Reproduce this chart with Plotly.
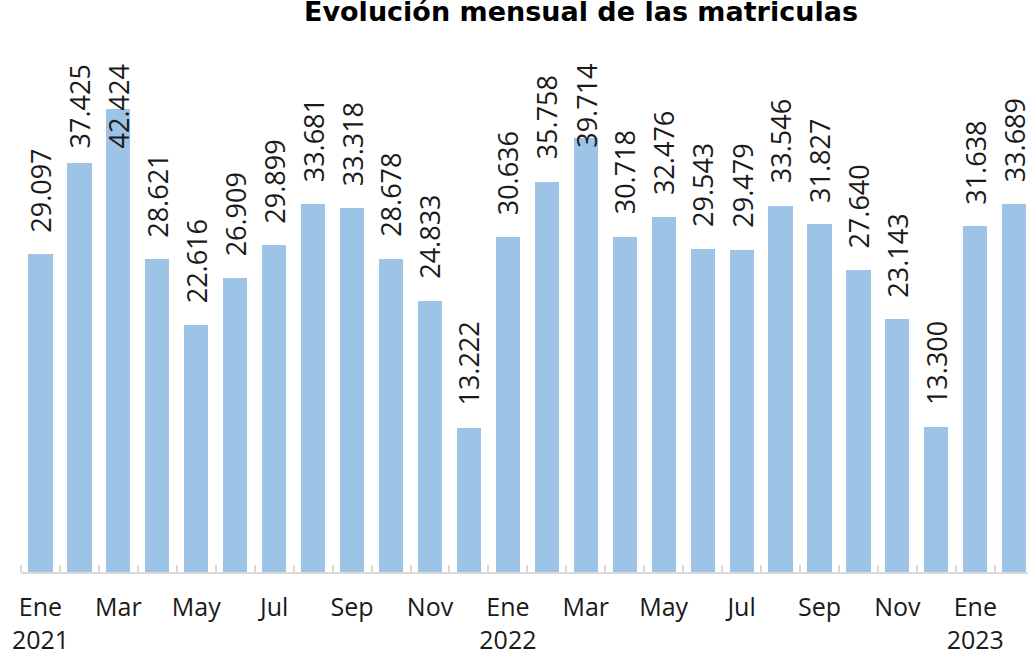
import plotly.graph_objects as go

# ---- data ----
months = ["Ene", "Feb", "Mar", "Abr", "May", "Jun", "Jul", "Ago", "Sep", "Oct", "Nov", "Dic",
          "Ene", "Feb", "Mar", "Abr", "May", "Jun", "Jul", "Ago", "Sep", "Oct", "Nov", "Dic",
          "Ene", "Feb"]
years = [2021] * 12 + [2022] * 12 + [2023] * 2
matriculas = [29097, 37425, 42424, 28621, 22616, 26909, 29899, 33681, 33318, 28678, 24833, 13222,
              30636, 35758, 39714, 30718, 32476, 29543, 29479, 33546, 31827, 27640, 23143, 13300,
              31638, 33689]
title_text = "Evolución mensual de las matriculas"

# ---- derived ----
xs = list(range(len(matriculas)))
tickvals = [i for i in xs if i % 2 == 0]
ticktext = [months[i] + ("<br>" + str(years[i]) if months[i] == "Ene" else "") for i in tickvals]
labels = [f"{v:,}".replace(",", ".") for v in matriculas]

W, H = 1028, 653
m_l, m_r, m_t, m_b = 21, 0, 62, 81
pitch = 38.95
y_max = 46700
plot_h = H - m_t - m_b
px_per_unit = plot_h / y_max

BAR_COLOR = "#9dc3e6"
TEXT_COLOR = "#1a1a1a"
AXIS_COLOR = "#d9d9d9"
LABEL_FONT = dict(family="Open Sans", size=27, color=TEXT_COLOR)
GAP = 20

fig = go.Figure()
fig.add_trace(go.Bar(x=xs, y=matriculas, marker=dict(color=BAR_COLOR, line=dict(width=0)),
                     width=0.62, hoverinfo="skip"))

annotations = []
for x, v, t in zip(xs, matriculas, labels):
    est_len = len(t) * 14.0
    top_px = v * px_per_unit + GAP + est_len
    if top_px > plot_h:
        annotations.append(dict(x=x, xref="x", y=1, yref="paper", yanchor="top", xanchor="center",
                                text=t, textangle=-90, showarrow=False, font=LABEL_FONT))
    else:
        annotations.append(dict(x=x, xref="x", y=v, yref="y", yanchor="bottom", xanchor="center",
                                yshift=GAP, text=t, textangle=-90, showarrow=False, font=LABEL_FONT))

fig.update_layout(
    width=W, height=H,
    margin=dict(l=m_l, r=m_r, t=m_t, b=m_b, autoexpand=False),
    paper_bgcolor="white", plot_bgcolor="white",
    showlegend=False,
    title=dict(text="<b>" + title_text + "</b>", x=581 / W, xanchor="center", y=0.982, yanchor="middle",
               font=dict(family="DejaVu Sans", size=27, color="#000000"), automargin=False),
    xaxis=dict(range=[-0.5, (W - m_l - m_r) / pitch - 0.5], tickmode="array", tickvals=tickvals,
               ticktext=ticktext, ticks="", showgrid=False, zeroline=False, automargin=False,
               showline=True, linecolor=AXIS_COLOR, linewidth=2,
               tickfont=dict(family="Open Sans", size=25, color=TEXT_COLOR),
               ticklabelstandoff=12,
               minor=dict(tickmode="linear", tick0=-0.5, dtick=1, ticks="inside", ticklen=7,
                          tickcolor=AXIS_COLOR, tickwidth=2, showgrid=False)),
    yaxis=dict(range=[0, y_max], visible=False, showgrid=False, zeroline=False, automargin=False),
    annotations=annotations,
    bargap=0,
)

fig.write_html("out.html", config={"displayModeBar": False},
               post_script="document.body.style.margin='0px';")
